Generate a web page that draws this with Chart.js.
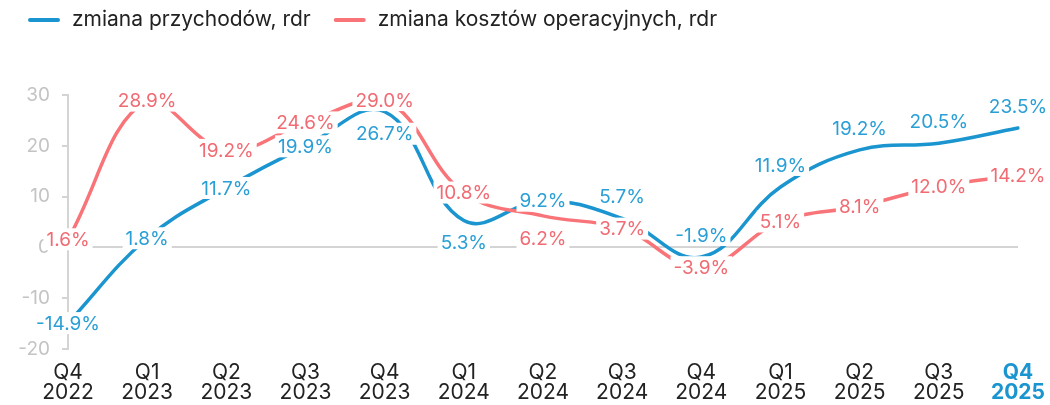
<!DOCTYPE html>
<html>
<head>
<meta charset="utf-8">
<script src="https://cdn.jsdelivr.net/npm/chart.js@4.4.1/dist/chart.umd.min.js"></script>
<style>
  html, body { margin: 0; padding: 0; background: #fff; }
  #wrap { width: 1050px; height: 405px; }
</style>
</head>
<body>
<div id="wrap"><canvas id="chart"></canvas></div>
<script>
const categories = [
  ["Q4", "2022"], ["Q1", "2023"], ["Q2", "2023"], ["Q3", "2023"], ["Q4", "2023"],
  ["Q1", "2024"], ["Q2", "2024"], ["Q3", "2024"], ["Q4", "2024"],
  ["Q1", "2025"], ["Q2", "2025"], ["Q3", "2025"], ["Q4", "2025"]
];
const revenue = [-14.9, 1.8, 11.7, 19.9, 26.7, 5.3, 9.2, 5.7, -1.9, 11.9, 19.2, 20.5, 23.5];
const costs = [1.6, 28.9, 19.2, 24.6, 29.0, 10.8, 6.2, 3.7, -3.9, 5.1, 8.1, 12.0, 14.2];
const yTicks = [-20, -10, 0, 10, 20, 30];

// where each value label sits: c = on the point, a = above, b = below
const revenueLabelPos = ["c", "c", "c", "c", "b", "b", "c", "a", "a", "a", "a", "a", "a"];
const costsLabelPos = ["c", "c", "c", "c", "c", "c", "b", "c", "c", "c", "c", "c", "c"];

const BLUE = "#1b95cf";
const BLUE_TXT = "#2a9fd6";
const RED = "#f87478";
const RED_TXT = "#f06b73";
const FONT = "Inter, Roboto, sans-serif";

// legend drawn by hand so the spacing matches the original
const lineLegend = {
  id: "lineLegend",
  afterDraw(chart) {
    const ctx = chart.ctx;
    ctx.save();
    ctx.font = "21px " + FONT;
    ctx.textBaseline = "middle";
    let x = 28;
    const y = 20;
    chart.data.datasets.forEach(ds => {
      ctx.strokeStyle = ds.borderColor;
      ctx.lineWidth = 4;
      ctx.lineCap = "round";
      ctx.beginPath();
      ctx.moveTo(x + 2, y);
      ctx.lineTo(x + 30, y);
      ctx.stroke();
      ctx.fillStyle = "#222";
      ctx.fillText(ds.label, x + 44, y);
      x += 44 + ctx.measureText(ds.label).width + 23;
    });
    ctx.restore();
  }
};

const valueLabels = {
  id: "valueLabels",
  afterDatasetsDraw(chart) {
    const ctx = chart.ctx;
    ctx.save();
    ctx.font = "19px " + FONT;
    ctx.textAlign = "center";
    ctx.textBaseline = "middle";
    chart.data.datasets.forEach((ds, i) => {
      const meta = chart.getDatasetMeta(i);
      meta.data.forEach((pt, j) => {
        const txt = ds.data[j].toFixed(1) + "%";
        const p = ds.labelPos[j];
        const dy = p === "a" ? -22 : p === "b" ? 22 : 0;
        const x = pt.x, y = pt.y + dy;
        const w = ctx.measureText(txt).width;
        ctx.fillStyle = "#fff";
        ctx.fillRect(x - w / 2 - 3, y - 11, w + 6, 22);
        ctx.fillStyle = ds.labelColor;
        ctx.fillText(txt, x, y + 1);
      });
    });
    ctx.restore();
  }
};

new Chart(document.getElementById("chart"), {
  type: "line",
  data: {
    labels: categories,
    datasets: [
      {
        label: "zmiana przychodów, rdr",
        data: revenue,
        borderColor: BLUE,
        backgroundColor: BLUE,
        labelColor: BLUE_TXT,
        labelPos: revenueLabelPos,
        order: 1
      },
      {
        label: "zmiana kosztów operacyjnych, rdr",
        data: costs,
        borderColor: RED,
        backgroundColor: RED,
        labelColor: RED_TXT,
        labelPos: costsLabelPos,
        order: 0
      }
    ]
  },
  options: {
    responsive: true,
    maintainAspectRatio: false,
    animation: false,
    layout: { padding: { left: 0, right: 32, top: 95, bottom: 0 } },
    elements: {
      line: { tension: 0.4, borderWidth: 3.5, borderCapStyle: "round" },
      point: { radius: 0, hoverRadius: 0 }
    },
    plugins: {
      tooltip: { enabled: false },
      legend: { display: false }
    },
    scales: {
      x: {
        offset: false,
        afterFit: axis => { axis.height = 56; },
        grid: { display: false },
        border: { display: false },
        ticks: {
          maxRotation: 0,
          autoSkip: false,
          padding: 5,
          color: ctx => ctx.index === categories.length - 1 ? BLUE : "#222",
          font: ctx => ({
            family: FONT,
            size: 21,
            lineHeight: 0.98,
            weight: ctx.index === categories.length - 1 ? "bold" : "normal"
          })
        }
      },
      y: {
        min: -20,
        max: 30,
        afterBuildTicks: axis => { axis.ticks = yTicks.map(v => ({ value: v })); },
        afterFit: axis => { axis.width = 68; },
        grid: {
          color: ctx => ctx.tick && ctx.tick.value === 0 ? "#d4d4d4" : "rgba(0,0,0,0)",
          tickColor: "#d4d4d4",
          tickLength: 6,
          lineWidth: 2
        },
        border: { display: true, color: "#d4d4d4", width: 2 },
        ticks: {
          padding: 12,
          color: "#c4c4c4",
          font: { family: FONT, size: 19 }
        }
      }
    }
  },
  plugins: [valueLabels, lineLegend]
});
</script>
</body>
</html>
